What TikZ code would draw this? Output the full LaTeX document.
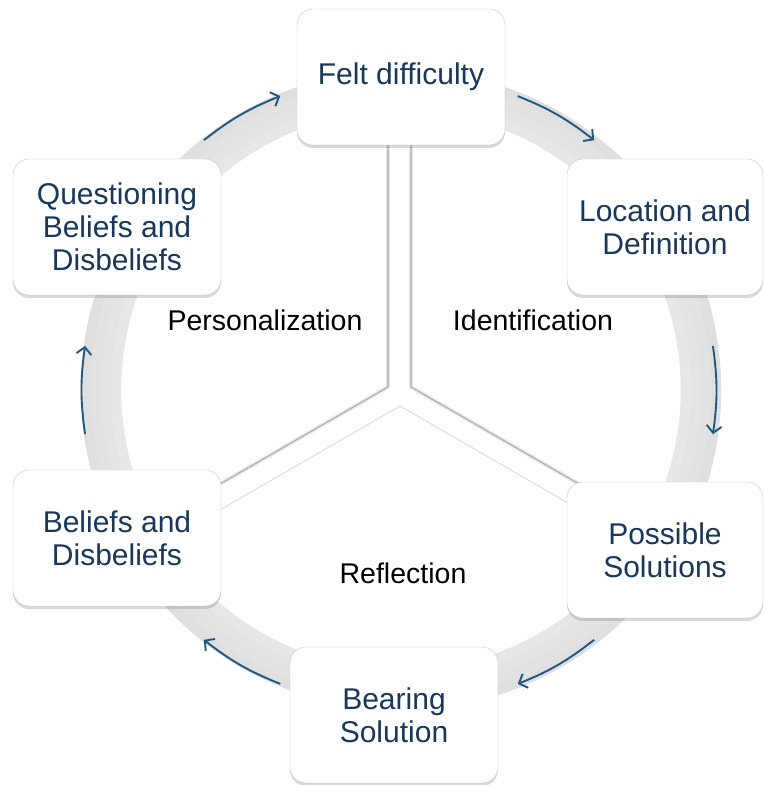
\documentclass[tikz,border=0pt]{standalone}
\usepackage{fontspec}
\setmainfont{Liberation Sans}
\usepackage{tikz}
\usetikzlibrary{positioning, calc, shadows, arrows.meta}
\definecolor{stagetext}{RGB}{23,55,94}
\definecolor{arrowblue}{RGB}{31,88,128}
\tikzstyle{cyclearrow} = [draw=arrowblue, line width=1.9pt, -{Straight Barb[length=7pt,width=15pt]}]

\begin{document}
\begin{tikzpicture}[x=1pt, y=1pt,
      stage/.style={draw=gray!45, fill=white, rounded corners=16pt, minimum width=208pt, minimum height=136pt, align=center, text=stagetext, font=\fontsize{30}{33}\selectfont, drop shadow={shadow xshift=0pt, shadow yshift=-3pt, opacity=0.3}},
      phase/.style={font=\fontsize{28.5}{32}\selectfont, text=black},
      divider/.style={draw=gray!65, line width=1.1pt, preaction={draw=gray!18, line width=4pt}}
          ]
        \useasboundingbox (0,0) rectangle (765,785);
        \coordinate (ring) at (401,395);
        \coordinate (hub) at (399,395);

        % Grey ring, fading a little towards the inside
        \foreach \r/\g in {315/25, 305/23, 295/21, 285/19} {
          \draw[gray!\g, line width=10.5pt] (ring) circle (\r);
        }

        % Sector dividers
        \coordinate (ul) at (388,398);
        \coordinate (ur) at (411,398);
        \coordinate (lo) at (400,379);
        \draw[divider] (388,650) -- (ul) -- ++(210:300);
        \draw[divider] (411,650) -- (ur) -- ++(-30:300);
        \draw[gray!45, line width=0.5pt] ($(lo)+(210:300)$) -- (lo) -- ++(-30:300);

        % Arrows round the ring
        \foreach \a [count=\i] in {120,60,0,-60,-120,180} {
          \coordinate (as\i) at ($(hub)+(\a+8:317)$);
          \coordinate (ae\i) at ($(hub)+(\a-8:317)$);
          \draw[cyclearrow] (as\i) to[bend left=8] (ae\i);
        }

        % Stages
        \node (felt) [stage] at (401,708) {Felt difficulty};
        \node (loc) [stage, minimum width=196pt] at (665,558) {Location and\\Definition};
        \node (poss) [stage, minimum width=196pt] at (665,235) {Possible\\Solutions};
        \node (bear) [stage] at (394,70) {Bearing\\Solution};
        \node (bel) [stage] at (117,247) {Beliefs and\\Disbeliefs};
        \node (quest) [stage] at (117,558) {Questioning\\Beliefs and\\Disbeliefs};

        % Phases
        \node (pers) [phase] at (265,465) {Personalization};
        \node (ident) [phase] at (533,465) {Identification};
        \node (refl) [phase] at (403,212) {Reflection};

\end{tikzpicture}
\end{document}
